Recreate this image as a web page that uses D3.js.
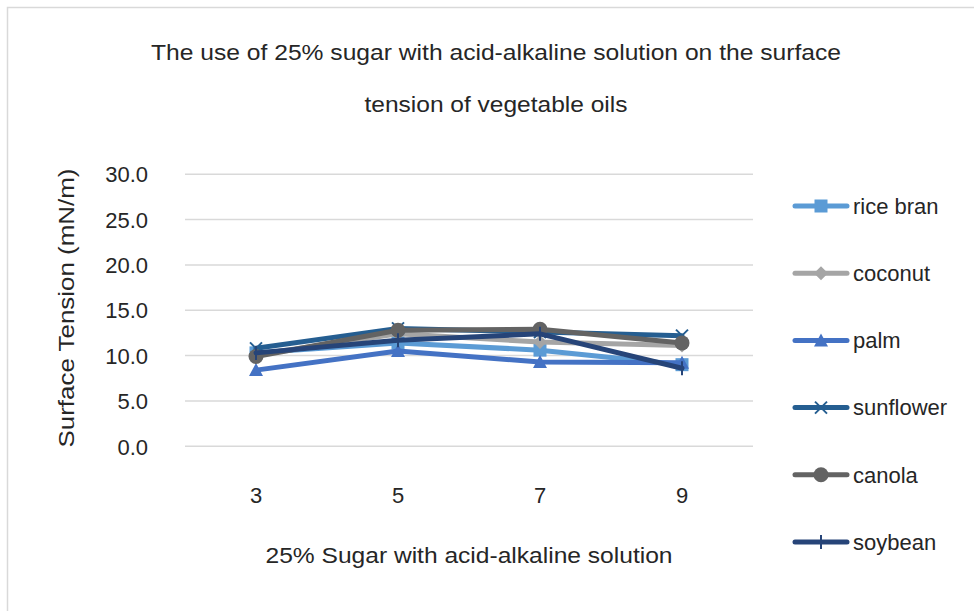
<!DOCTYPE html>
<html><head><meta charset="utf-8">
<script src="https://cdn.jsdelivr.net/npm/d3@7"></script>
<style>body{margin:0;background:#fff}svg{display:block}text{font-family:"Liberation Sans",Arial,sans-serif;fill:#262626}</style>
</head><body><svg id="c" width="974" height="611"></svg>
<script>
const categories = ["3","5","7","9"];
const seriesNames = ["rice bran","coconut","palm","sunflower","canola","soybean"];
const riceBran  = [10.3, 11.4, 10.6, 9.0];
const coconut   = [10.1, 12.4, 11.5, 11.1];
const palm      = [8.4, 10.5, 9.3, 9.2];
const sunflower = [10.8, 13.0, 12.6, 12.2];
const canola    = [9.9, 12.8, 12.9, 11.4];
const soybean   = [10.3, 11.7, 12.4, 8.6];
const yTicks = [0,5,10,15,20,25,30];
const titleLines = ["The use of 25% sugar with acid-alkaline solution on the surface","tension of vegetable oils"];
const xTitle = "25% Sugar with acid-alkaline solution";
const yTitle = "Surface Tension (mN/m)";

const colors = ["#5B9BD5","#A5A5A5","#4472C4","#255E91","#636363","#264478"];
const markers = ["square","diamond","triangle","x","circle","plus"];
const values = [riceBran, coconut, palm, sunflower, canola, soybean];

const svg = d3.select("#c");
svg.append("rect").attr("x",7.5).attr("y",7.5).attr("width",1000).attr("height",700)
  .attr("fill","none").attr("stroke","#d9d9d9").attr("stroke-width",1.5);

const x = d3.scaleBand().domain(categories).range([185,753]);
const y = d3.scaleLinear().domain([0,30]).range([446.3,174.2]);

// gridlines
svg.append("g").selectAll("line").data(yTicks).join("line")
  .attr("x1",185).attr("x2",753).attr("y1",d=>y(d)).attr("y2",d=>y(d))
  .attr("stroke","#d9d9d9").attr("stroke-width",1.5);

// y axis labels
const yAxis = d3.axisLeft(y).tickValues(yTicks).tickFormat(d3.format(".1f")).tickSize(0).tickPadding(0);
const yg = svg.append("g").attr("transform","translate(148,0)").call(yAxis);
yg.select(".domain").remove();
yg.selectAll("text").attr("font-size",22).attr("font-family","Liberation Sans, Arial, sans-serif").attr("fill","#262626").attr("dy","0.35em");

// x axis labels
const xAxis = d3.axisBottom(x).tickSize(0).tickPadding(0);
const xg = svg.append("g").attr("transform","translate(0,495)").call(xAxis);
xg.select(".domain").remove();
xg.selectAll("text").attr("font-size",22).attr("font-family","Liberation Sans, Arial, sans-serif").attr("fill","#262626").attr("dy","0.35em");

// titles
svg.append("text").attr("x",496).attr("y",52).attr("dy","0.35em").attr("text-anchor","middle")
  .attr("font-size",22).attr("textLength",690).attr("lengthAdjust","spacingAndGlyphs").text(titleLines[0]);
svg.append("text").attr("x",496).attr("y",104).attr("dy","0.35em").attr("text-anchor","middle")
  .attr("font-size",22).attr("textLength",263).attr("lengthAdjust","spacingAndGlyphs").text(titleLines[1]);
svg.append("text").attr("x",469).attr("y",555).attr("dy","0.35em").attr("text-anchor","middle")
  .attr("font-size",22).attr("textLength",407).attr("lengthAdjust","spacingAndGlyphs").text(xTitle);
svg.append("text").attr("transform","translate(66,308) rotate(-90)").attr("dy","0.35em").attr("text-anchor","middle")
  .attr("font-size",22).attr("textLength",279).attr("lengthAdjust","spacingAndGlyphs").text(yTitle);

function drawMarker(g, type, color, cx, cy){
  if(type==="square") g.append("rect").attr("x",cx-6.5).attr("y",cy-6.5).attr("width",13).attr("height",13).attr("fill",color);
  else if(type==="diamond") g.append("path").attr("d",`M${cx},${cy-7}L${cx+7},${cy}L${cx},${cy+7}L${cx-7},${cy}Z`).attr("fill",color);
  else if(type==="triangle") g.append("path").attr("d",`M${cx},${cy-7}L${cx+7},${cy+6}L${cx-7},${cy+6}Z`).attr("fill",color);
  else if(type==="circle") g.append("circle").attr("cx",cx).attr("cy",cy).attr("r",7.5).attr("fill",color);
  else if(type==="x") g.append("path").attr("d",`M${cx-6},${cy-6}L${cx+6},${cy+6}M${cx+6},${cy-6}L${cx-6},${cy+6}`).attr("stroke",color).attr("stroke-width",2).attr("fill","none");
  else if(type==="plus") g.append("path").attr("d",`M${cx},${cy-7}L${cx},${cy+7}`).attr("stroke",color).attr("stroke-width",2).attr("fill","none");
}

const line = d3.line().x((d,i)=>x(categories[i])+x.bandwidth()/2).y(d=>y(d));
values.forEach((vals,si)=>{
  const g = svg.append("g");
  g.append("path").attr("d",line(vals)).attr("fill","none").attr("stroke",colors[si])
    .attr("stroke-width",5).attr("stroke-linejoin","round").attr("stroke-linecap","round");
  vals.forEach((v,i)=>drawMarker(g, markers[si], colors[si], x(categories[i])+x.bandwidth()/2, y(v)));
});

// legend
const leg = svg.append("g");
seriesNames.forEach((name,i)=>{
  const cy = 206 + i*67.2;
  leg.append("line").attr("x1",795).attr("x2",847).attr("y1",cy).attr("y2",cy)
    .attr("stroke",colors[i]).attr("stroke-width",5).attr("stroke-linecap","round");
  drawMarker(leg, markers[i], colors[i], 821, cy);
  leg.append("text").attr("x",853).attr("y",cy).attr("dy","0.35em").attr("font-size",22).text(name);
});
</script></body></html>
